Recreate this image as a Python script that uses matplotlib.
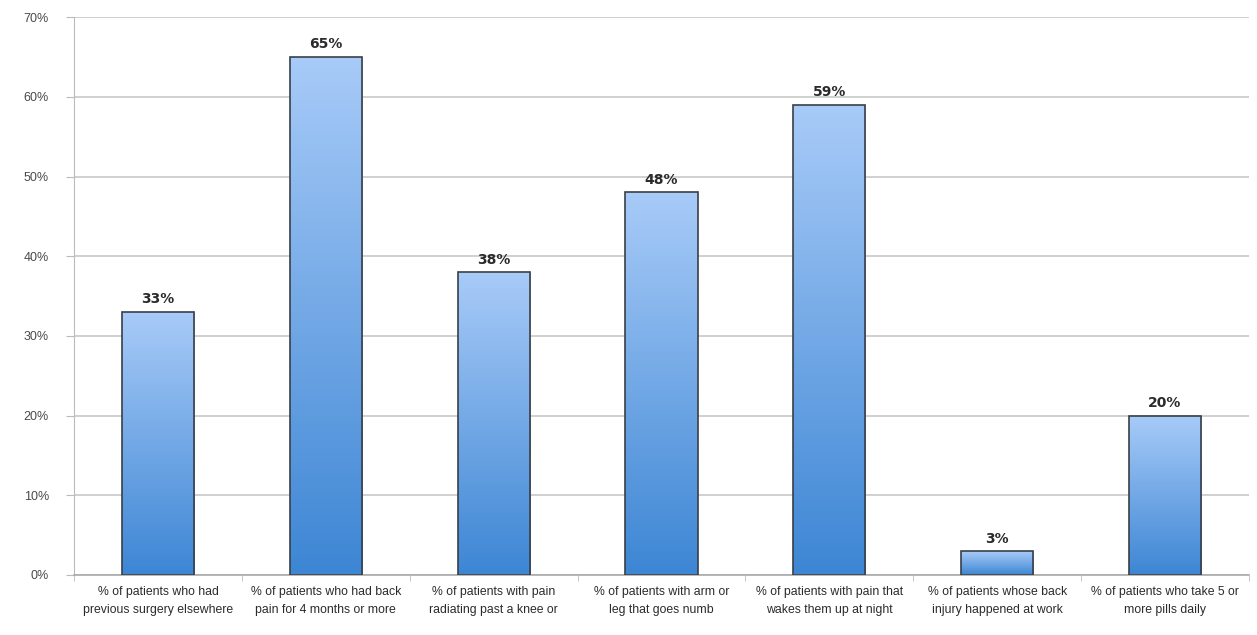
import numpy as np
import matplotlib
matplotlib.use("Agg")
import matplotlib.pyplot as plt
from matplotlib.colors import LinearSegmentedColormap

categories = [
    "% of patients who had\nprevious surgery elsewhere",
    "% of patients who had back\npain for 4 months or more",
    "% of patients with pain\nradiating past a knee or",
    "% of patients with arm or\nleg that goes numb",
    "% of patients with pain that\nwakes them up at night",
    "% of patients whose back\ninjury happened at work",
    "% of patients who take 5 or\nmore pills daily",
]
values = [33, 65, 38, 48, 59, 3, 20]
yticks = [0, 10, 20, 30, 40, 50, 60, 70]

fig = plt.figure(figsize=(12.57, 6.35), dpi=100)
ax = fig.add_axes([0.0589, 0.0945, 0.9347, 0.8785])

x = np.arange(len(values))
bars = ax.bar(x, values, width=0.43, color="none", edgecolor="#3a3f48", linewidth=1.2, zorder=3)

# vertical gradient fill, clipped to each bar
cmap = LinearSegmentedColormap.from_list("bluegrad", ["#3d86d4", "#a8cbf8"])
grad = np.linspace(0, 1, 256).reshape(-1, 1)
for b in bars:
    x0, w, h = b.get_x(), b.get_width(), b.get_height()
    im = ax.imshow(grad, cmap=cmap, origin="lower", aspect="auto",
                   extent=[x0, x0 + w, 0, h], zorder=2, interpolation="bilinear")
    im.set_clip_path(b)

for xi, v in zip(x, values):
    ax.text(xi, v + 0.7, f"{v}%", ha="center", va="bottom", fontsize=10,
            fontweight="bold", color="#2b2b2b", family="DejaVu Sans")

ax.set_xlim(-0.5, len(values) - 0.5)
ax.set_ylim(0, 70)
ax.set_yticks(yticks)
ax.set_yticklabels([f"{t}%" for t in yticks], fontsize=9, color="#4a4a4a",
                   family="Liberation Sans")
ax.set_xticks(x)
ax.set_xticklabels(categories, fontsize=8.8, color="#2b2b2b",
                   family="Liberation Sans", linespacing=1.6)
ax.tick_params(axis="x", length=0, pad=8)
ax.tick_params(axis="y", length=6, color="#bbbbbb", pad=12)

# small ticks on category boundaries
ax.set_xticks(np.arange(len(values) + 1) - 0.5, minor=True)
ax.tick_params(axis="x", which="minor", length=4, color="#bbbbbb")

ax.grid(axis="y", color="#c8c8c8", linewidth=1.2, zorder=0)
ax.set_axisbelow(True)
for s in ["top", "right"]:
    ax.spines[s].set_visible(False)
ax.spines["left"].set_color("#bbbbbb")
ax.spines["bottom"].set_color("#aaaaaa")
ax.spines["bottom"].set_linewidth(1.2)

fig.savefig("out.png", dpi=100)
